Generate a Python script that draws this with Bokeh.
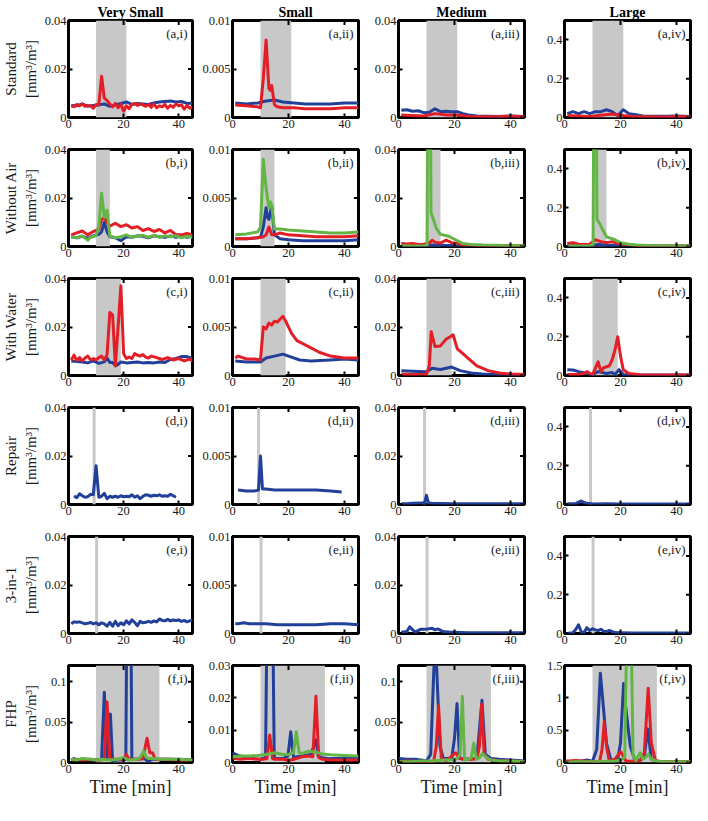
import math
from bokeh.plotting import figure
from bokeh.layouts import gridplot
from bokeh.models import BoxAnnotation, Span, Label, FixedTicker, Range1d
from bokeh.embed import file_html
from bokeh.resources import INLINE

FONT = "Liberation Serif"
BLUE = "#22409a"
RED = "#e31e26"
GREEN = "#63b545"
GRAY = "#c8c8c8"

# ---------------- labels / axes ----------------
col_titles = ["Very Small", "Small", "Medium", "Large"]
row_titles = ["Standard", "Without Air", "With Water", "Repair", "3-in-1", "FHP"]
row_letters = ["a", "b", "c", "d", "e", "f"]
col_numerals = ["i", "ii", "iii", "iv"]
unit_label = "[mm³/m³]"
x_label = "Time [min]"
x_max = 45
x_ticks = [0, 20, 40]
x_tick_labels = ["0", "20", "40"]

y_max_std = [0.04, 0.01, 0.04, 0.5]
y_ticks_std = [[0, 0.02, 0.04], [0, 0.005, 0.01], [0, 0.02, 0.04], [0, 0.2, 0.4]]
y_labels_std = [["0", "0.02", "0.04"], ["0", "0.005", "0.01"], ["0", "0.02", "0.04"], ["0", "0.2", "0.4"]]
y_max_fhp = [0.12, 0.03, 0.12, 1.5]
y_ticks_fhp = [[0, 0.05, 0.1], [0, 0.01, 0.02, 0.03], [0, 0.05, 0.1], [0, 0.5, 1, 1.5]]
y_labels_fhp = [["0", "0.05", "0.1"], ["0", "0.01", "0.02", "0.03"], ["0", "0.05", "0.1"], ["0", "0.5", "1", "1.5"]]

# event windows (grey shading) per row, or single event marker time
event_start = [10, 10, 10, None, None, 10]
event_end = [21, 15, 19, None, None, 33]
event_marker = [None, None, None, 9.3, 10.2, None]

# ---------------- data: row a (Standard) ----------------
a1_blue_t = [1, 3, 5, 7, 9, 11, 13, 15, 17, 19, 21, 23, 25, 27, 29, 31, 33, 35, 37, 39, 41, 43, 45]
a1_blue_y = [0.0050, 0.0048, 0.0056, 0.0046, 0.0050, 0.0052, 0.0056, 0.0046, 0.0052, 0.0058, 0.0064, 0.0054,
             0.0058, 0.0056, 0.0054, 0.0060, 0.0064, 0.0066, 0.0068, 0.0064, 0.0066, 0.0058, 0.0060]
a1_red_t = [1, 2, 3, 4, 5, 6, 7, 8, 9, 10, 11, 12, 13, 14, 15, 16, 17, 18, 19, 20, 21, 22, 23, 24, 25, 26, 27,
            28, 29, 30, 31, 32, 33, 34, 35, 36, 37, 38, 39, 40, 41, 42, 43, 44, 45]
a1_red_y = [0.0048, 0.0044, 0.0054, 0.0048, 0.0056, 0.0046, 0.0050, 0.0048, 0.0038, 0.0054, 0.0052, 0.0170,
            0.0080, 0.0070, 0.0056, 0.0044, 0.0058, 0.0040, 0.0054, 0.0026, 0.0048, 0.0036, 0.0054, 0.0058,
            0.0050, 0.0056, 0.0052, 0.0046, 0.0054, 0.0042, 0.0056, 0.0040, 0.0048, 0.0044, 0.0054, 0.0038,
            0.0050, 0.0042, 0.0056, 0.0048, 0.0052, 0.0034, 0.0050, 0.0038, 0.0044]

a2_blue_t = [1, 5, 9, 12, 15, 18, 22, 26, 30, 35, 40, 45]
a2_blue_y = [0.0015, 0.0014, 0.0015, 0.0017, 0.0018, 0.0016, 0.0015, 0.0014, 0.0014, 0.0014, 0.0015, 0.0015]
a2_red_t = [1, 5, 9, 10, 11, 12, 13, 13.5, 14, 15, 16, 18, 22, 26, 30, 35, 40, 45]
a2_red_y = [0.0013, 0.0012, 0.0011, 0.0010, 0.0040, 0.0080, 0.0030, 0.0028, 0.0033, 0.0013, 0.0011, 0.0010,
            0.0010, 0.0009, 0.0009, 0.0009, 0.0010, 0.0010]

a3_blue_t = [1, 3, 5, 7, 9, 11, 13, 15, 17, 19, 21, 23, 25, 28, 32, 36, 40, 45]
a3_blue_y = [0.0030, 0.0032, 0.0026, 0.0028, 0.0020, 0.0022, 0.0036, 0.0024, 0.0026, 0.0024, 0.0024, 0.0016,
             0.0010, 0.0006, 0.0005, 0.0004, 0.0006, 0.0004]
a3_red_t = [1, 5, 9, 13, 17, 21, 25, 30, 35, 40, 45]
a3_red_y = [0.0010, 0.0008, 0.0006, 0.0016, 0.0010, 0.0010, 0.0004, 0.0003, 0.0003, 0.0005, 0.0003]

a4_blue_t = [1, 3, 5, 7, 9, 11, 13, 15, 17, 19, 21, 23, 25, 28, 32, 36, 40, 45]
a4_blue_y = [0.020, 0.030, 0.020, 0.030, 0.020, 0.030, 0.030, 0.040, 0.030, 0.010, 0.040, 0.020, 0.015, 0.008,
             0.006, 0.006, 0.008, 0.005]
a4_red_t = [1, 5, 9, 13, 17, 21, 25, 30, 35, 40, 45]
a4_red_y = [0.010, 0.008, 0.005, 0.012, 0.018, 0.010, 0.004, 0.004, 0.003, 0.005, 0.003]

# ---------------- data: row b (Without Air) ----------------
b1_blue_t = [1, 3, 5, 7, 9, 11, 12, 13, 14, 15, 17, 19, 21, 23, 25, 27, 29, 31, 33, 35, 37, 39, 41, 43, 45]
b1_blue_y = [0.0040, 0.0036, 0.0042, 0.0034, 0.0044, 0.0050, 0.0060, 0.0100, 0.0060, 0.0040, 0.0036, 0.0024,
             0.0040, 0.0038, 0.0044, 0.0042, 0.0036, 0.0044, 0.0040, 0.0038, 0.0044, 0.0038, 0.0046, 0.0038, 0.0044]
b1_red_t = [1, 3, 5, 7, 9, 11, 12, 13, 14, 15, 17, 19, 21, 23, 25, 27, 29, 31, 33, 35, 37, 39, 41, 43, 45]
b1_red_y = [0.0048, 0.0056, 0.0064, 0.0048, 0.0062, 0.0070, 0.0110, 0.0120, 0.0100, 0.0084, 0.0096, 0.0082,
            0.0090, 0.0076, 0.0082, 0.0066, 0.0074, 0.0062, 0.0070, 0.0056, 0.0066, 0.0048, 0.0048, 0.0054, 0.0048]
b1_green_t = [1, 3, 5, 7, 8, 9, 10, 11, 12, 13, 14, 15, 16, 17, 19, 21, 23, 25, 27, 29, 31, 33, 35, 37, 39, 41,
              43, 45]
b1_green_y = [0.0040, 0.0036, 0.0044, 0.0026, 0.0038, 0.0040, 0.0046, 0.0080, 0.0220, 0.0120, 0.0150, 0.0042,
              0.0040, 0.0036, 0.0040, 0.0048, 0.0038, 0.0042, 0.0046, 0.0038, 0.0046, 0.0038, 0.0044, 0.0040,
              0.0044, 0.0036, 0.0042, 0.0038]

b2_blue_t = [1, 5, 9, 10, 11, 12, 12.5, 13, 14, 15, 17, 20, 25, 30, 35, 40, 45]
b2_blue_y = [0.0008, 0.0008, 0.0009, 0.0010, 0.0020, 0.0040, 0.0030, 0.0028, 0.0042, 0.0012, 0.0008, 0.0007,
             0.0006, 0.0006, 0.0006, 0.0006, 0.0007]
b2_red_t = [1, 5, 9, 11, 12, 13, 14, 15, 17, 20, 25, 30, 35, 40, 45]
b2_red_y = [0.0008, 0.0008, 0.0009, 0.0010, 0.0012, 0.0020, 0.0012, 0.0012, 0.0014, 0.0012, 0.0011, 0.0010,
            0.0010, 0.0010, 0.0011]
b2_green_t = [1, 5, 9, 10, 11, 12, 13, 13.5, 14, 15, 17, 20, 25, 30, 35, 40, 45]
b2_green_y = [0.0012, 0.0013, 0.0015, 0.0020, 0.0090, 0.0060, 0.0040, 0.0046, 0.0042, 0.0018, 0.0018, 0.0017,
              0.0016, 0.0015, 0.0014, 0.0014, 0.0015]

b3_blue_t = [1, 5, 9, 12, 15, 20, 25, 30, 35, 40, 45]
b3_blue_y = [0.0003, 0.0002, 0.0002, 0.0006, 0.0004, 0.0004, 0.0002, 0.0002, 0.0002, 0.0002, 0.0002]
b3_red_t = [1, 3, 5, 7, 9, 11, 12, 13, 15, 17, 19, 21, 23, 25, 28, 32, 36, 40, 45]
b3_red_y = [0.0012, 0.0010, 0.0012, 0.0008, 0.0009, 0.0014, 0.0026, 0.0018, 0.0014, 0.0026, 0.0016, 0.0012,
            0.0008, 0.0006, 0.0004, 0.0004, 0.0003, 0.0003, 0.0003]
b3_green_t = [1, 5, 9, 10.2, 10.9, 11.6, 12.5, 13.5, 15, 18, 20, 23, 26, 30, 35, 40, 45]
b3_green_y = [0.0003, 0.0002, 0.0003, 0.0005, 0.2000, 0.0140, 0.0110, 0.0075, 0.0050, 0.0042, 0.0030, 0.0012,
              0.0008, 0.0006, 0.0005, 0.0003, 0.0003]

b4_blue_t = [1, 5, 9, 12, 15, 20, 25, 30, 35, 40, 45]
b4_blue_y = [0.005, 0.004, 0.004, 0.010, 0.006, 0.004, 0.003, 0.003, 0.002, 0.002, 0.002]
b4_red_t = [1, 3, 5, 7, 9, 11, 13, 15, 17, 19, 21, 23, 25, 28, 32, 36, 40, 45]
b4_red_y = [0.015, 0.020, 0.012, 0.010, 0.012, 0.035, 0.025, 0.020, 0.025, 0.015, 0.012, 0.010, 0.006, 0.004,
            0.003, 0.003, 0.003, 0.003]
b4_green_t = [1, 5, 9, 10.2, 10.9, 11.6, 12.5, 13.5, 15, 18, 20, 23, 26, 30, 35, 40, 45]
b4_green_y = [0.003, 0.003, 0.003, 0.010, 2.000, 0.140, 0.120, 0.090, 0.050, 0.035, 0.020, 0.012, 0.008, 0.005,
              0.004, 0.003, 0.003]

# ---------------- data: row c (With Water) ----------------
c1_blue_t = [1, 3, 5, 7, 9, 11, 13, 14, 15, 16, 17, 18, 19, 21, 23, 25, 27, 29, 31, 33, 35, 37, 39, 41, 43, 45]
c1_blue_y = [0.0060, 0.0058, 0.0056, 0.0052, 0.0060, 0.0050, 0.0056, 0.0072, 0.0054, 0.0054, 0.0040, 0.0046,
             0.0056, 0.0052, 0.0054, 0.0056, 0.0052, 0.0054, 0.0052, 0.0056, 0.0054, 0.0066, 0.0070, 0.0078,
             0.0078, 0.0070]
c1_red_t = [1, 2, 3, 4, 5, 6, 7, 8, 9, 10, 11, 12, 13, 14, 15, 16, 17, 18, 19, 20, 21, 22, 23, 24, 25, 26, 27,
            28, 29, 30, 32, 34, 36, 38, 40, 42, 44, 45]
c1_red_y = [0.0064, 0.0084, 0.0062, 0.0074, 0.0060, 0.0072, 0.0080, 0.0064, 0.0070, 0.0064, 0.0074, 0.0080,
            0.0064, 0.0086, 0.0260, 0.0250, 0.0040, 0.0200, 0.0370, 0.0090, 0.0070, 0.0076, 0.0070, 0.0090,
            0.0084, 0.0080, 0.0086, 0.0076, 0.0072, 0.0080, 0.0074, 0.0066, 0.0074, 0.0064, 0.0070, 0.0060,
            0.0068, 0.0060]

c2_blue_t = [1, 5, 10, 12, 15, 18, 20, 24, 28, 35, 40, 45]
c2_blue_y = [0.0015, 0.0014, 0.0014, 0.0018, 0.0020, 0.0022, 0.0020, 0.0016, 0.0015, 0.0016, 0.0017, 0.0016]
c2_red_t = [1, 2, 5, 8, 10, 11, 12, 13, 14, 15, 16, 17, 18, 19, 21, 23, 25, 27, 31, 35, 40, 45]
c2_red_y = [0.0018, 0.0020, 0.0017, 0.0017, 0.0016, 0.0050, 0.0048, 0.0054, 0.0052, 0.0056, 0.0055, 0.0058,
            0.0061, 0.0056, 0.0044, 0.0036, 0.0033, 0.0030, 0.0024, 0.0020, 0.0018, 0.0018]

c3_blue_t = [1, 5, 10, 12, 15, 19, 22, 26, 30, 35, 40, 45]
c3_blue_y = [0.0020, 0.0018, 0.0015, 0.0030, 0.0025, 0.0035, 0.0020, 0.0010, 0.0006, 0.0005, 0.0004, 0.0004]
c3_red_t = [1, 5, 10, 11, 11.7, 13, 15, 17, 18.5, 19.5, 21, 23, 25, 28, 32, 36, 40, 45]
c3_red_y = [0.0005, 0.0004, 0.0005, 0.0040, 0.0180, 0.0120, 0.0122, 0.0150, 0.0160, 0.0168, 0.0110, 0.0090,
            0.0070, 0.0040, 0.0020, 0.0010, 0.0006, 0.0004]

c4_blue_t = [1, 3, 5, 8, 10, 12, 15, 17, 18, 19.5, 21, 25, 30, 35, 40, 45]
c4_blue_y = [0.030, 0.028, 0.020, 0.010, 0.005, 0.020, 0.010, 0.015, 0.005, 0.030, 0.005, 0.003, 0.002, 0.002,
             0.002, 0.002]
c4_red_t = [1, 5, 7, 8, 10, 12, 13, 14, 16, 17, 18, 19, 20, 21, 23, 27, 35, 45]
c4_red_y = [0.005, 0.005, 0.010, 0.020, 0.003, 0.070, 0.020, 0.040, 0.050, 0.080, 0.130, 0.200, 0.100, 0.030,
            0.010, 0.004, 0.003, 0.003]

# ---------------- data: row d (Repair) ----------------
d1_blue_t = [2, 3, 4, 5, 6, 7, 8, 9, 10, 11, 12, 13, 14, 15, 16, 17, 18, 19, 20, 21, 22, 23, 24, 25, 26, 27, 28,
             29, 30, 31, 32, 33, 34, 35, 36, 37, 38, 39]
d1_blue_y = [0.0035, 0.0028, 0.0044, 0.0036, 0.0030, 0.0032, 0.0042, 0.0040, 0.0160, 0.0030, 0.0034, 0.0046,
             0.0024, 0.0034, 0.0030, 0.0034, 0.0030, 0.0036, 0.0032, 0.0034, 0.0032, 0.0040, 0.0030, 0.0036,
             0.0024, 0.0034, 0.0040, 0.0038, 0.0034, 0.0038, 0.0036, 0.0040, 0.0034, 0.0036, 0.0034, 0.0042,
             0.0036, 0.0030]
d2_blue_t = [2, 5, 8, 9.3, 10, 10.7, 12, 15, 20, 25, 30, 35, 39]
d2_blue_y = [0.0015, 0.0014, 0.0014, 0.0015, 0.0050, 0.0016, 0.0016, 0.0015, 0.0015, 0.0015, 0.0015, 0.0014,
             0.0013]
d3_blue_t = [1, 3, 5, 8, 9.3, 10, 10.7, 12, 15, 20, 25, 30, 35, 40, 45]
d3_blue_y = [0.0003, 0.0003, 0.0005, 0.0006, 0.0006, 0.0038, 0.0006, 0.0005, 0.0004, 0.0003, 0.0003, 0.0003,
             0.0003, 0.0003, 0.0003]
d4_blue_t = [1, 2, 4, 5, 6, 7, 8, 10, 15, 20, 25, 30, 35, 40, 45]
d4_blue_y = [0.004, 0.004, 0.005, 0.012, 0.018, 0.010, 0.006, 0.003, 0.004, 0.003, 0.003, 0.002, 0.002, 0.002,
             0.002]

# ---------------- data: row e (3-in-1) ----------------
e1_blue_t = [1, 2, 3, 4, 5, 6, 7, 8, 9, 10, 11, 12, 13, 14, 15, 16, 17, 18, 19, 20, 21, 22, 23, 24, 25, 26, 27,
             28, 29, 30, 31, 32, 33, 34, 35, 36, 37, 38, 39, 40, 41, 42, 43, 44, 45]
e1_blue_y = [0.0040, 0.0048, 0.0046, 0.0048, 0.0044, 0.0040, 0.0042, 0.0046, 0.0040, 0.0044, 0.0036, 0.0044,
             0.0040, 0.0030, 0.0046, 0.0030, 0.0050, 0.0032, 0.0044, 0.0036, 0.0052, 0.0040, 0.0056, 0.0046,
             0.0032, 0.0050, 0.0044, 0.0046, 0.0050, 0.0046, 0.0052, 0.0048, 0.0060, 0.0054, 0.0052, 0.0058,
             0.0052, 0.0056, 0.0054, 0.0056, 0.0050, 0.0054, 0.0048, 0.0052, 0.0056]
e2_blue_t = [1, 2, 4, 6, 8, 12, 16, 20, 25, 30, 35, 40, 45]
e2_blue_y = [0.0010, 0.0010, 0.0011, 0.0010, 0.0010, 0.0010, 0.0009, 0.0009, 0.0009, 0.0009, 0.0010, 0.0010,
             0.0009]
e3_blue_t = [1, 3, 4, 5, 6, 8, 10, 12, 13, 14, 16, 18, 20, 25, 30, 35, 40, 45]
e3_blue_y = [0.0005, 0.0008, 0.0028, 0.0016, 0.0006, 0.0018, 0.0018, 0.0022, 0.0015, 0.0019, 0.0008, 0.0006,
             0.0005, 0.0003, 0.0003, 0.0003, 0.0003, 0.0003]
e4_blue_t = [1, 3, 4, 5, 6, 7, 8, 9, 10, 11, 12, 13, 14, 15, 16, 18, 20, 25, 30, 35, 40, 45]
e4_blue_y = [0.000, 0.004, 0.020, 0.045, 0.008, 0.005, 0.030, 0.015, 0.025, 0.018, 0.015, 0.022, 0.012, 0.010,
             0.016, 0.005, 0.004, 0.003, 0.002, 0.002, 0.002, 0.002]

# ---------------- data: row f (FHP) ----------------
f1_blue_t = [1, 2, 3, 5, 8, 10, 12, 13, 14, 15.2, 16, 18, 20, 20.8, 21.3, 22.5, 23, 25, 27, 28, 29, 30, 32, 35,
             40, 45]
f1_blue_y = [0.003, 0.005, 0.003, 0.004, 0.003, 0.003, 0.004, 0.087, 0.006, 0.060, 0.002, 0.003, 0.003, 0.004,
             0.250, 0.250, 0.004, 0.004, 0.005, 0.004, 0.000, 0.004, 0.004, 0.004, 0.004, 0.003]
f1_red_t = [1, 3, 5, 8, 10, 12, 13, 14, 15, 17, 20, 21, 22, 25, 27, 28.5, 29.5, 30.5, 31.5, 33, 36, 40, 45]
f1_red_y = [0.003, 0.004, 0.003, 0.004, 0.003, 0.003, 0.005, 0.075, 0.004, 0.004, 0.004, 0.010, 0.004, 0.004,
            0.005, 0.030, 0.012, 0.012, 0.004, 0.004, 0.004, 0.003, 0.003]
f1_green_t = [1, 3, 5, 8, 10, 12, 15, 18, 20, 22, 25, 26, 27.3, 28.3, 29, 31, 33, 36, 40, 45]
f1_green_y = [0.004, 0.003, 0.005, 0.004, 0.003, 0.004, 0.003, 0.004, 0.006, 0.003, 0.004, 0.006, 0.014, 0.006,
              0.005, 0.005, 0.004, 0.004, 0.004, 0.003]

f2_blue_t = [0, 2, 5, 8, 10, 11.8, 12.5, 14.2, 14.9, 16, 18, 19.8, 20.8, 21.8, 23, 26, 28, 29.8, 30.6, 32, 35,
             40, 45]
f2_blue_y = [0.0030, 0.0022, 0.0016, 0.0012, 0.0010, 0.0015, 0.0600, 0.0600, 0.0015, 0.0012, 0.0012, 0.0020,
             0.0095, 0.0015, 0.0018, 0.0022, 0.0025, 0.0070, 0.0020, 0.0015, 0.0012, 0.0012, 0.0012]
f2_red_t = [0, 3, 6, 9, 11, 12.3, 13.3, 14.3, 15, 18, 20, 22, 25, 27, 28.7, 29.8, 30.8, 32, 35, 40, 45]
f2_red_y = [0.0012, 0.0010, 0.0012, 0.0010, 0.0010, 0.0012, 0.0085, 0.0012, 0.0010, 0.0010, 0.0006, 0.0010,
            0.0018, 0.0020, 0.0018, 0.0205, 0.0015, 0.0010, 0.0008, 0.0008, 0.0008]
f2_green_t = [0, 3, 6, 9, 12, 15, 18, 20, 21.8, 22.8, 23.8, 25, 27, 28, 30, 32, 35, 40, 45]
f2_green_y = [0.0018, 0.0020, 0.0020, 0.0022, 0.0025, 0.0030, 0.0025, 0.0025, 0.0030, 0.0095, 0.0030, 0.0028,
              0.0035, 0.0034, 0.0032, 0.0026, 0.0024, 0.0022, 0.0020]

f3_blue_t = [0, 3, 6, 8, 10, 11.5, 12.7, 13.6, 14.8, 16, 19, 20, 20.9, 21.8, 24, 28, 29.8, 31, 33, 36, 40, 45]
f3_blue_y = [0.005, 0.004, 0.004, 0.003, 0.002, 0.010, 0.123, 0.120, 0.020, 0.005, 0.005, 0.030, 0.073, 0.005,
             0.004, 0.005, 0.077, 0.010, 0.005, 0.004, 0.003, 0.002]
f3_red_t = [0, 4, 8, 11, 12.5, 13.5, 14.3, 15.3, 17, 19, 20.5, 21.5, 23, 26, 28, 28.9, 29.7, 30.6, 32, 36, 40, 45]
f3_red_y = [0.001, 0.002, 0.001, 0.001, 0.000, 0.020, 0.070, 0.005, 0.002, 0.008, 0.012, 0.006, 0.004, 0.004,
            0.005, 0.020, 0.072, 0.010, 0.004, 0.002, 0.002, 0.001]
f3_green_t = [0, 4, 8, 12, 16, 19, 21, 22, 22.8, 23.6, 25, 26, 26.9, 27.8, 29, 30, 31.5, 33, 36, 40, 45]
f3_green_y = [0.001, 0.001, 0.002, 0.002, 0.003, 0.003, 0.005, 0.010, 0.082, 0.003, 0.004, 0.006, 0.024, 0.004,
              0.006, 0.011, 0.006, 0.003, 0.002, 0.002, 0.001]

f4_blue_t = [0, 3, 6, 8, 10, 11.5, 12.8, 13.6, 15, 16.5, 18, 19, 20, 21.1, 22, 23.5, 25, 27, 28.5, 29.8, 31, 33,
             36, 40, 45]
f4_blue_y = [0.020, 0.010, 0.020, 0.040, 0.020, 0.200, 1.380, 1.000, 0.300, 0.050, 0.020, 0.040, 0.300, 1.220,
             0.800, 0.250, 0.050, 0.030, 0.100, 0.520, 0.050, 0.020, 0.010, 0.010, 0.010]
f4_red_t = [0, 4, 8, 11, 12.5, 13.4, 14.2, 15, 16, 18, 20, 21, 22, 25, 27, 28.5, 29.9, 31, 32.5, 35, 40, 45]
f4_red_y = [0.020, 0.030, 0.020, 0.010, 0.000, 0.200, 0.630, 0.250, 0.020, 0.050, 0.170, 0.100, 0.020, 0.020,
            0.030, 0.150, 1.150, 0.300, 0.030, 0.010, 0.010, 0.010]
f4_green_t = [0, 4, 8, 12, 16, 18, 20, 21.5, 22.4, 23.6, 24.5, 25.5, 27, 28, 29, 30, 31, 33, 36, 40, 45]
f4_green_y = [0.000, 0.010, 0.010, 0.010, 0.020, 0.020, 0.040, 0.080, 2.500, 2.500, 0.100, 0.030, 0.150, 0.050,
              0.080, 0.130, 0.050, 0.020, 0.010, 0.010, 0.010]

# series per panel, built from the named lists above (draw order: blue, red, green)
panel_series = [
    [[(a1_blue_t, a1_blue_y, BLUE), (a1_red_t, a1_red_y, RED)],
     [(a2_blue_t, a2_blue_y, BLUE), (a2_red_t, a2_red_y, RED)],
     [(a3_blue_t, a3_blue_y, BLUE), (a3_red_t, a3_red_y, RED)],
     [(a4_blue_t, a4_blue_y, BLUE), (a4_red_t, a4_red_y, RED)]],
    [[(b1_blue_t, b1_blue_y, BLUE), (b1_red_t, b1_red_y, RED), (b1_green_t, b1_green_y, GREEN)],
     [(b2_blue_t, b2_blue_y, BLUE), (b2_red_t, b2_red_y, RED), (b2_green_t, b2_green_y, GREEN)],
     [(b3_blue_t, b3_blue_y, BLUE), (b3_red_t, b3_red_y, RED), (b3_green_t, b3_green_y, GREEN)],
     [(b4_blue_t, b4_blue_y, BLUE), (b4_red_t, b4_red_y, RED), (b4_green_t, b4_green_y, GREEN)]],
    [[(c1_blue_t, c1_blue_y, BLUE), (c1_red_t, c1_red_y, RED)],
     [(c2_blue_t, c2_blue_y, BLUE), (c2_red_t, c2_red_y, RED)],
     [(c3_blue_t, c3_blue_y, BLUE), (c3_red_t, c3_red_y, RED)],
     [(c4_blue_t, c4_blue_y, BLUE), (c4_red_t, c4_red_y, RED)]],
    [[(d1_blue_t, d1_blue_y, BLUE)], [(d2_blue_t, d2_blue_y, BLUE)],
     [(d3_blue_t, d3_blue_y, BLUE)], [(d4_blue_t, d4_blue_y, BLUE)]],
    [[(e1_blue_t, e1_blue_y, BLUE)], [(e2_blue_t, e2_blue_y, BLUE)],
     [(e3_blue_t, e3_blue_y, BLUE)], [(e4_blue_t, e4_blue_y, BLUE)]],
    [[(f1_blue_t, f1_blue_y, BLUE), (f1_red_t, f1_red_y, RED), (f1_green_t, f1_green_y, GREEN)],
     [(f2_blue_t, f2_blue_y, BLUE), (f2_red_t, f2_red_y, RED), (f2_green_t, f2_green_y, GREEN)],
     [(f3_blue_t, f3_blue_y, BLUE), (f3_red_t, f3_red_y, RED), (f3_green_t, f3_green_y, GREEN)],
     [(f4_blue_t, f4_blue_y, BLUE), (f4_red_t, f4_red_y, RED), (f4_green_t, f4_green_y, GREEN)]],
]

# ---------------- layout ----------------
W_FRAME = 126
H_FRAME = 97
col_left = [66, 36, 36, 36]
col_right = [4, 4, 4, 2]
row_top = [20, 14, 14, 14, 14, 14]
row_bottom = [18, 18, 18, 18, 18, 40]
TICK_FONT = "12.5px"
TEXT_COLOR = "#1a1a1a"


def style_axis(ax):
    ax.axis_line_color = None
    ax.major_tick_in = 4
    ax.major_tick_out = 0
    ax.major_tick_line_width = 2
    ax.major_tick_line_color = "black"
    ax.minor_tick_line_color = None
    ax.major_label_text_font = FONT
    ax.major_label_text_font_size = TICK_FONT
    ax.major_label_text_color = TEXT_COLOR
    ax.major_label_standoff = 2
    ax.axis_label_text_font = FONT
    ax.axis_label_text_font_style = "normal"
    ax.axis_label_text_color = TEXT_COLOR


def make_panel(r, c):
    if r == 5:
        ymax, yt, yl = y_max_fhp[c], y_ticks_fhp[c], y_labels_fhp[c]
    else:
        ymax, yt, yl = y_max_std[c], y_ticks_std[c], y_labels_std[c]
    p = figure(width=col_left[c] + W_FRAME + col_right[c],
               height=row_top[r] + H_FRAME + row_bottom[r],
               x_range=Range1d(0, x_max), y_range=Range1d(0, ymax),
               title=(col_titles[c] if r == 0 else None),
               output_backend="svg", toolbar_location=None,
               min_border_left=col_left[c], min_border_right=col_right[c],
               min_border_top=row_top[r], min_border_bottom=row_bottom[r],
               background_fill_color="white", border_fill_color="white",
               outline_line_color="black", outline_line_width=3, outline_line_alpha=1)
    if r == 0:
        p.title.align = "center"
        p.title.text_font = FONT
        p.title.text_font_style = "bold"
        p.title.text_font_size = "14px"
        p.title.text_color = "black"
        p.title.standoff = 2
    p.xgrid.visible = False
    p.ygrid.visible = False

    xa = p.below[0]
    ya = p.left[0]
    style_axis(xa)
    style_axis(ya)
    xa.ticker = FixedTicker(ticks=x_ticks)
    xa.major_label_overrides = dict(zip(x_ticks, x_tick_labels))
    ya.ticker = FixedTicker(ticks=yt)
    ya.major_label_overrides = dict(zip(yt, yl))
    if c == 0:
        ya.axis_label = row_titles[r] + "\n" + unit_label
        ya.axis_label_text_font_size = "15px"
        ya.axis_label_standoff = 3
    if r == 5:
        xa.axis_label = x_label
        xa.axis_label_text_font_size = "18px"
        xa.axis_label_standoff = 1

    # event window
    if event_start[r] is not None:
        p.add_layout(BoxAnnotation(left=event_start[r], right=event_end[r], fill_color=GRAY,
                                   fill_alpha=1, line_color=None, level="underlay"))
    if event_marker[r] is not None:
        p.add_layout(Span(location=event_marker[r], dimension="height", line_color=GRAY,
                          line_width=3, level="underlay"))

    for t, y, col in panel_series[r][c]:
        p.line(t, y, line_color=col, line_width=3, line_join="round")

    # mirrored tick marks on the top and right edges (MATLAB box style)
    p.scatter(x=x_ticks, y=[ymax] * len(x_ticks), marker="dash", angle=math.pi / 2, size=9,
              line_color="black", line_width=2)
    p.scatter(x=[x_max] * len(yt), y=yt, marker="dash", size=9, line_color="black", line_width=2)

    p.add_layout(Label(x=x_max, y=ymax, x_offset=-5, y_offset=-5,
                       text=f"({row_letters[r]},{col_numerals[c]})",
                       text_align="right", text_baseline="top",
                       text_font=FONT, text_font_size="13px", text_color=TEXT_COLOR))
    return p


grid = [[make_panel(r, c) for c in range(4)] for r in range(6)]
layout = gridplot(grid, toolbar_location=None)

open("out.html", "w").write(file_html(layout, INLINE))
